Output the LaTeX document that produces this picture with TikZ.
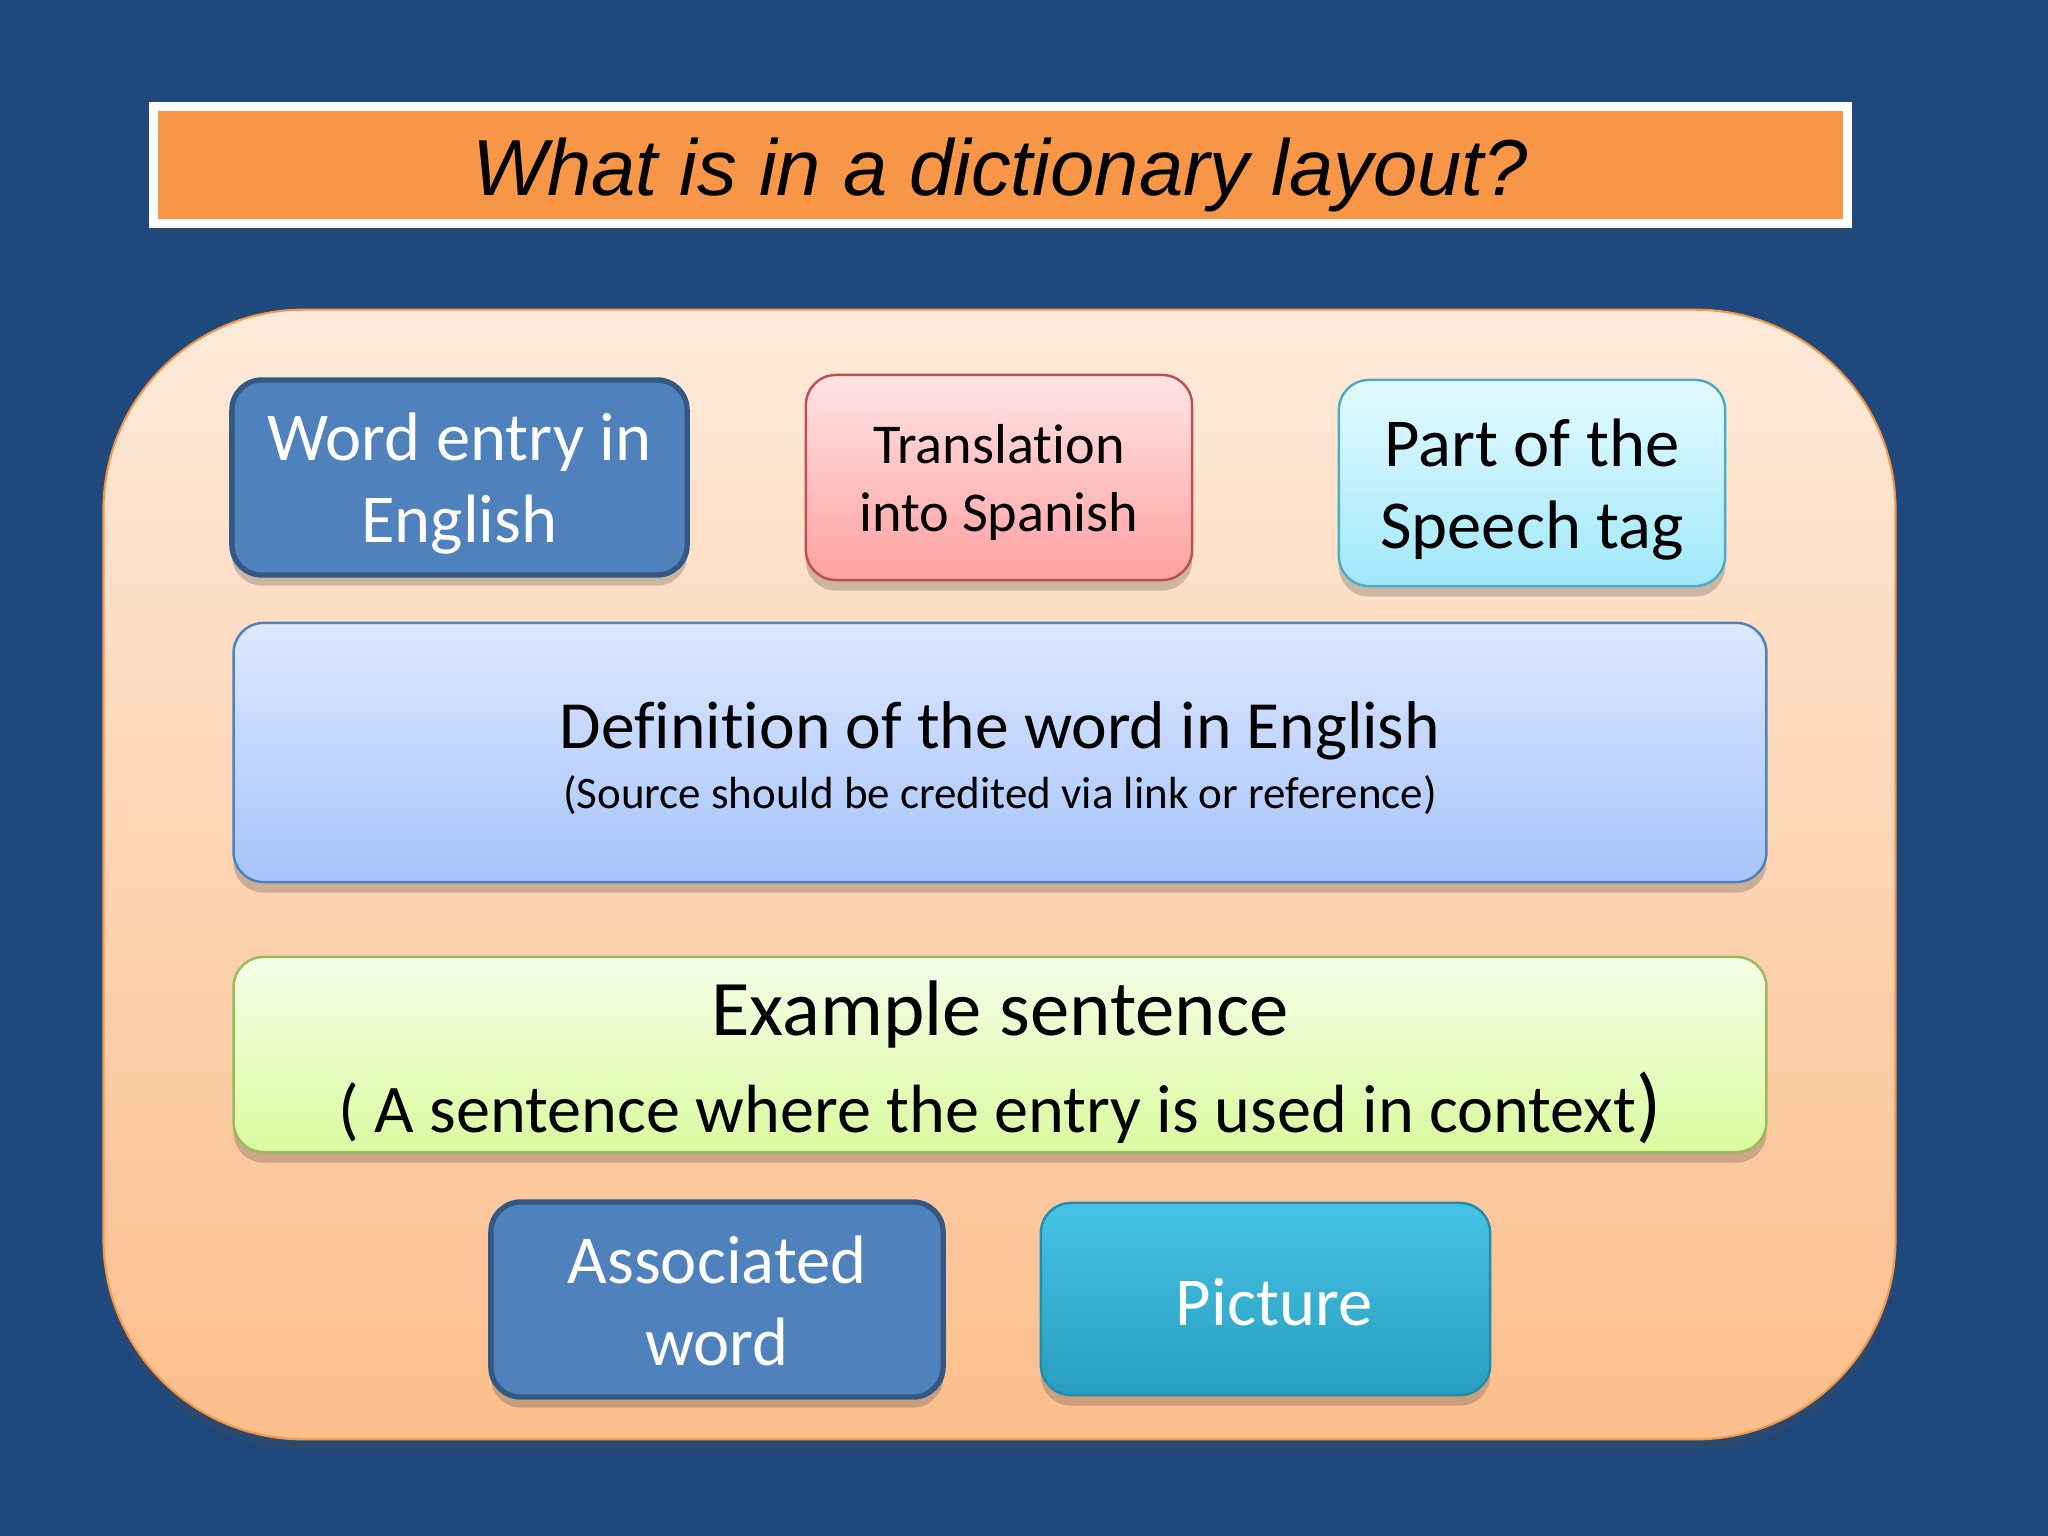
\documentclass[tikz,border=0pt]{standalone}
\usepackage{fontspec}
\setmainfont[Ligatures={NoCommon}]{Carlito}
\newfontfamily\titlefont{Liberation Sans}
\usetikzlibrary{shadows}
\definecolor{bgblue}{RGB}{31,73,125}
\definecolor{titleorange}{RGB}{247,150,70}
\definecolor{paneltop}{RGB}{253,234,218}
\definecolor{panelbottom}{RGB}{252,190,140}
\definecolor{panelborder}{RGB}{247,150,70}
\definecolor{wordblue}{RGB}{79,129,189}
\definecolor{wordborder}{RGB}{52,88,132}
\definecolor{transtop}{RGB}{255,228,228}
\definecolor{transbottom}{RGB}{255,160,160}
\definecolor{transborder}{RGB}{192,80,77}
\definecolor{postop}{RGB}{228,250,255}
\definecolor{posbottom}{RGB}{160,232,250}
\definecolor{posborder}{RGB}{75,172,198}
\definecolor{deftop}{RGB}{222,232,255}
\definecolor{defbottom}{RGB}{165,196,250}
\definecolor{defborder}{RGB}{79,129,189}
\definecolor{extop}{RGB}{245,255,232}
\definecolor{exbottom}{RGB}{218,250,160}
\definecolor{exborder}{RGB}{155,187,89}
\definecolor{pictop}{RGB}{70,195,228}
\definecolor{picbottom}{RGB}{40,158,192}
\definecolor{picborder}{RGB}{35,140,170}
\tikzset{
  softshadow/.style={drop shadow={shadow xshift=0pt, shadow yshift=-3pt, opacity=0.28, fill=black!70}},
  box/.style={rounded corners=0.3cm, draw, line width=0.7pt, inner sep=0pt, softshadow},
  darkbox/.style={box, fill=wordblue, draw=wordborder, line width=1.5pt},
  bigtext/.style={font=\fontsize{19.5}{23.3}\selectfont},
  labeltext/.style={inner sep=0pt, align=center}
}
\begin{document}
\begin{tikzpicture}[x=0.01cm,y=-0.01cm]
\fill[bgblue] (0,0) rectangle (2048,1536);
\useasboundingbox (0,0) rectangle (2048,1536);

% title
\node (title) [fill=titleorange, draw=white, line width=2.3pt, minimum width=16.93cm, minimum height=1.17cm, inner sep=0pt, softshadow] at (1000.5,165) {};
\node (titletext) [labeltext, font=\titlefont\itshape\fontsize{22.6}{27}\selectfont] at (1000,175) {What is in a dictionary layout?};

% panel
\node (panel) [rounded corners=2cm, draw=panelborder, line width=0.6pt, top color=paneltop, bottom color=panelbottom, minimum width=17.91cm, minimum height=11.29cm, inner sep=0pt, softshadow] at (999.5,874.5) {};

% top row
\node (word) [darkbox, minimum width=4.55cm, minimum height=1.95cm] at (459.5,477.5) {};
\node (wordtext) [labeltext, bigtext, text=white] at (459.5,484) {Word entry in\\English};
\node (trans) [box, top color=transtop, bottom color=transbottom, draw=transborder, minimum width=3.86cm, minimum height=2.05cm] at (999,477.5) {};
\node (transtext) [labeltext, font=\fontsize{16}{19.3}\selectfont] at (999,482.5) {Translation\\into Spanish};
\node (pos) [box, top color=postop, bottom color=posbottom, draw=posborder, minimum width=3.86cm, minimum height=2.06cm] at (1532,483) {};
\node (postext) [labeltext, bigtext] at (1532,490) {Part of the\\Speech tag};

% definition
\node (def) [box, top color=deftop, bottom color=defbottom, draw=defborder, minimum width=15.32cm, minimum height=2.59cm] at (1000,752.5) {};
\node (defmain) [labeltext, font=\fontsize{19.2}{23}\selectfont] at (1000,731) {Definition of the word in English};
\node (defsub) [labeltext, font=\fontsize{12.8}{15}\selectfont] at (1000,795.5) {(Source should be credited via link or reference)};

% example
\node (ex) [box, top color=extop, bottom color=exbottom, draw=exborder, minimum width=15.32cm, minimum height=1.95cm] at (1000,1054.5) {};
\node (exmain) [labeltext, font=\fontsize{22.4}{26}\selectfont] at (1000,1014) {Example sentence};
\node (exsub) [labeltext, font=\fontsize{19.4}{23}\selectfont] at (1000,1108) {( A sentence where the entry is used in context{\fontsize{23.5}{23}\selectfont )}};

% bottom row
\node (assoc) [darkbox, minimum width=4.52cm, minimum height=1.95cm] at (717,1299.5) {};
\node (assoctext) [labeltext, bigtext, text=white] at (717,1301) {Associated\\word};
\node (pic) [box, top color=pictop, bottom color=picbottom, draw=picborder, minimum width=4.49cm, minimum height=1.92cm] at (1265.5,1299) {};
\node (pictext) [labeltext, bigtext, text=white] at (1274,1302) {Picture};
\end{tikzpicture}
\end{document}
